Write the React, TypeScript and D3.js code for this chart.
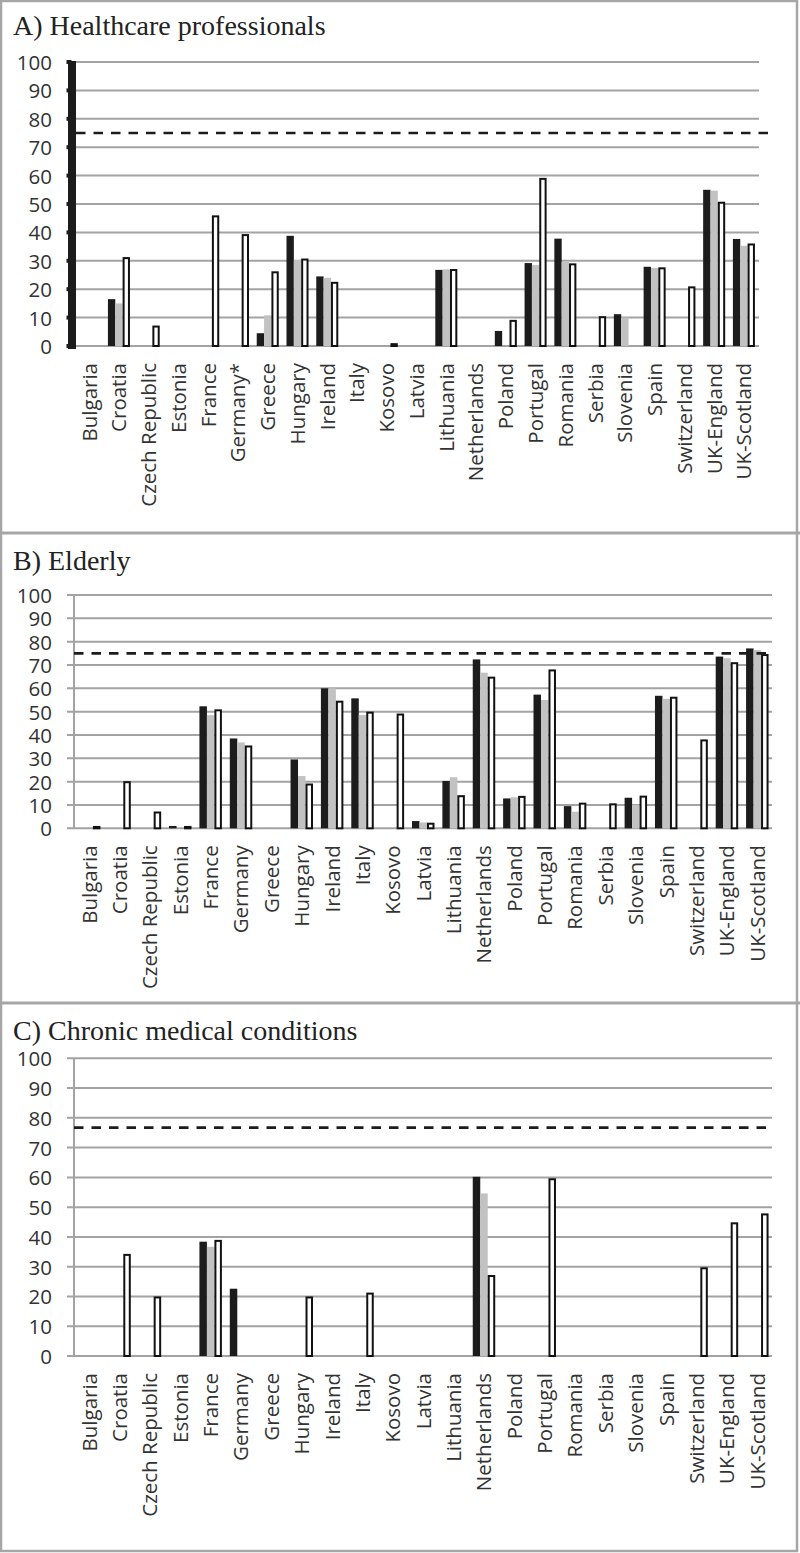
import React from "react";
import * as d3 from "d3";

const countries = ["Bulgaria","Croatia","Czech Republic","Estonia","France","Germany","Greece","Hungary","Ireland","Italy","Kosovo","Latvia","Lithuania","Netherlands","Poland","Portugal","Romania","Serbia","Slovenia","Spain","Switzerland","UK-England","UK-Scotland"];
const countriesA = countries.map(c => (c === "Germany" ? "Germany*" : c));
const yTicks = [0,10,20,30,40,50,60,70,80,90,100];
const seriesKeys = ["s1","s2","s3"];

// A) Healthcare professionals
const hcS1 = [null,16.5,null,null,null,null,4.5,38.8,24.5,null,null,null,26.8,null,5.3,29.2,37.8,null,11.2,27.9,null,55,37.7];
const hcS2 = [null,15,null,null,null,null,10.8,30.3,24,null,null,null,27,null,null,28.5,29.7,null,10,27.5,null,54.7,35.3];
const hcS3 = [null,31.3,7.2,null,46,39.4,26.3,30.8,22.6,null,1,null,27.1,null,9.2,59.2,29.1,10.5,null,27.7,21,50.8,36.1];
const hcTarget = 75;

// B) Elderly
const elS1 = [null,null,null,1,52.3,38.5,null,29.5,60,55.7,null,3.1,20.3,72.4,12.8,57.3,9.5,null,13.1,56.8,null,73.6,77.1];
const elS2 = [null,null,null,null,48.5,36.8,null,22.4,60,48.6,null,2.5,21.9,66.7,13.3,55,7.1,null,10,55.5,null,72.9,76.4];
const elS3 = [1,20.2,7.2,1,51,35.5,null,19.2,54.7,50,49.2,2.4,14.2,65,13.9,68.1,11,10.7,14,56.4,38.1,71.2,74.7];
const elTarget = 75;

// C) Chronic medical conditions
const cmS1 = [null,null,null,null,38.4,22.6,null,null,null,null,null,null,null,60.2,null,null,null,null,null,null,null,null,null];
const cmS2 = [null,null,null,null,36.7,null,null,null,null,null,null,null,null,54.6,null,null,null,null,null,null,null,null,null];
const cmS3 = [null,34.3,20,null,39,null,null,20,null,21.3,null,null,null,27.2,null,59.7,null,null,null,null,29.8,44.9,47.9];
const cmTarget = 76.7;

type Panel = {
  title: string; labels: string[]; s: (number|null)[][]; target: number;
  titleY: number; y0: number; y100: number; xStart: number; xEnd: number; gridEnd: number; thickAxis: boolean;
};

const panels: Panel[] = [
  { title: "A) Healthcare professionals", labels: countriesA, s: [hcS1, hcS2, hcS3], target: hcTarget,
    titleY: 35, y0: 346, y100: 62, xStart: 74.3, xEnd: 758.8, gridEnd: 759, thickAxis: true },
  { title: "B) Elderly", labels: countries, s: [elS1, elS2, elS3], target: elTarget,
    titleY: 570, y0: 828.3, y100: 595, xStart: 74, xEnd: 772.5, gridEnd: 772, thickAxis: false },
  { title: "C) Chronic medical conditions", labels: countries, s: [cmS1, cmS2, cmS3], target: cmTarget,
    titleY: 1040, y0: 1356, y100: 1058.3, xStart: 74, xEnd: 772.5, gridEnd: 772, thickAxis: false },
];

const fills = ["#1c1c1c", "#c2c2c2", "#ffffff"];
const sans = "'Open Sans', 'DejaVu Sans', sans-serif";

function PanelView({ p }: { p: Panel }) {
  const y = d3.scaleLinear().domain([0, 100]).range([p.y0, p.y100]);
  const x = d3.scaleBand<string>().domain(p.labels).range([p.xStart, p.xEnd]).paddingInner(0.26).paddingOuter(0.13);
  const inner = d3.scaleBand<string>().domain(seriesKeys).range([0, x.bandwidth()]);
  const bw = inner.bandwidth();
  return (
    <g>
      <text x={13} y={p.titleY} fontFamily="'Liberation Serif', 'Times New Roman', serif" fontSize={28} fill="#222">{p.title}</text>
      {yTicks.map(t => (
        <g key={t}>
          <line x1={67} x2={p.gridEnd} y1={y(t)} y2={y(t)} stroke="#a3a3a3" strokeWidth={2} />
          <text x={52} y={y(t)} textAnchor="end" dominantBaseline="central" fontFamily={sans} fontSize={20.5} fill="#333">{t}</text>
          {p.thickAxis && <rect x={66.5} y={y(t) - 2} width={5} height={4} fill="#1c1c1c" />}
        </g>
      ))}
      {p.thickAxis
        ? <rect x={68} y={y(100) - 1} width={8} height={y(0) - y(100) + 4} fill="#1c1c1c" />
        : <line x1={74} x2={74} y1={y(100)} y2={y(0)} stroke="#a3a3a3" strokeWidth={2} />}
      {p.labels.map((c, i) => (
        <g key={c}>
          {p.s.map((arr, k) => {
            const v = arr[i];
            if (v == null) return null;
            const bx = (x(c) as number) + (inner(seriesKeys[k]) as number);
            const top = y(v), h = y(0) - y(v);
            if (k === 2) {
              return <rect key={k} x={bx + 1} y={top + 1} width={bw - 2} height={Math.max(h - 1, 0.5)} fill={fills[k]} stroke="#111" strokeWidth={2} />;
            }
            return <rect key={k} x={bx} y={top} width={bw} height={h} fill={fills[k]} />;
          })}
          <text transform={`translate(${(x(c) as number) + x.bandwidth() / 2},${p.y0 + 17}) rotate(-90)`} dy="0.36em" textAnchor="end"
            fontFamily={sans} fontSize={20.5} fill="#333">{c}</text>
        </g>
      ))}
      <line x1={p.thickAxis ? 76 : 74} x2={768} y1={y(p.target)} y2={y(p.target)} stroke="#1c1c1c" strokeWidth={2.6} strokeDasharray="9.5 8" />
    </g>
  );
}

export default function App() {
  return (
    <svg width={800} height={1553} style={{ position: "absolute", left: 0, top: 0, background: "#fff" }}>
      <rect x={0} y={0} width={800} height={1553} fill="#fff" />
      {panels.map(p => <PanelView key={p.title} p={p} />)}
      <line x1={0} x2={800} y1={533} y2={533} stroke="#a6a6a6" strokeWidth={3} />
      <line x1={0} x2={800} y1={1003} y2={1003} stroke="#a6a6a6" strokeWidth={3} />
      <rect x={1} y={1} width={796} height={1550} fill="none" stroke="#a6a6a6" strokeWidth={2.5} />
    </svg>
  );
}
